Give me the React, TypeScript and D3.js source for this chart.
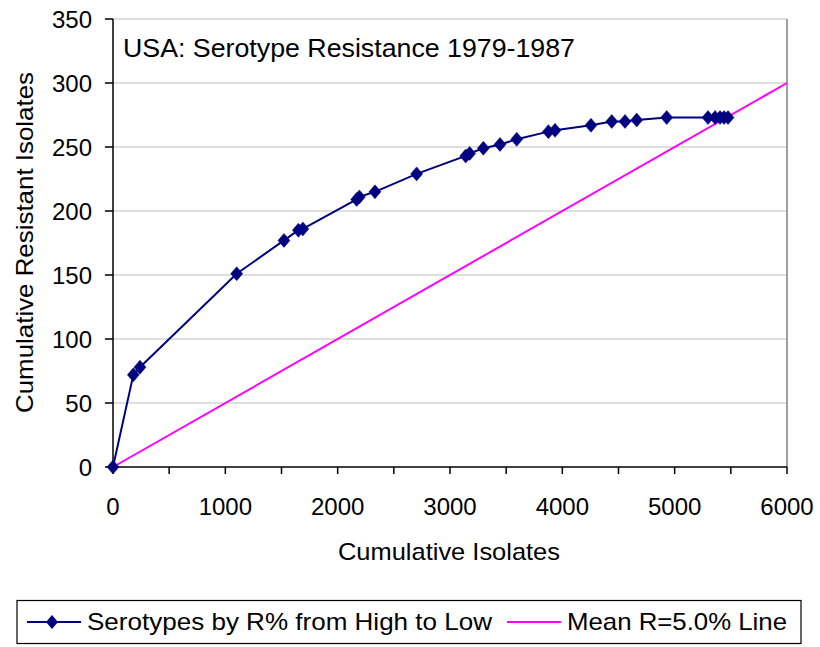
import React from "react";
import * as d3 from "d3";

const cumIsolates = [0, 181, 240, 1101, 1522, 1650, 1690, 2169, 2193, 2332, 2703, 3140, 3175, 3297, 3445, 3594, 3876, 3935, 4255, 4440, 4558, 4662, 4929, 5297, 5360, 5404, 5440, 5475];
const cumResistant = [0, 72, 78, 151, 177, 185, 186, 209, 211, 215, 229, 243, 245, 249, 252, 256, 262, 263, 267, 270, 270, 271, 273, 273, 273, 273, 273, 273];
const meanLineX = [0, 6000];
const meanRate = 0.05;
const xTickLabels = [0, 1000, 2000, 3000, 4000, 5000, 6000];
const xMinorTicks = [0, 500, 1000, 1500, 2000, 2500, 3000, 3500, 4000, 4500, 5000, 5500, 6000];
const yTickLabels = [0, 50, 100, 150, 200, 250, 300, 350];
const title = "USA: Serotype Resistance 1979-1987";
const xTitle = "Cumulative Isolates";
const yTitle = "Cumulative Resistant Isolates";
const seriesName = "Serotypes by R% from High to Low";
const meanName = "Mean R=5.0% Line";

const FONT = "'Liberation Sans', Arial, sans-serif";
const NAVY = "#000080";
const MAGENTA = "#FF00FF";

function diamond(cx: number, cy: number, hw = 6, hh = 7) {
  return `M${cx},${cy - hh}L${cx + hw},${cy}L${cx},${cy + hh}L${cx - hw},${cy}Z`;
}

export default function App() {
  const x = d3.scaleLinear().domain([0, 6000]).range([113, 787]);
  const y = d3.scaleLinear().domain([0, 350]).range([467, 19]);
  const pts = cumIsolates.map((v, i) => [v, cumResistant[i]] as [number, number]);
  const line = d3.line<[number, number]>().x((d) => x(d[0])).y((d) => y(d[1]));
  const meanPts = meanLineX.map((v) => [v, v * meanRate] as [number, number]);

  return (
    <svg width={820} height={647} style={{ position: "absolute", left: 0, top: 0, background: "#fff" }} fontFamily={FONT}>
      <rect x={0} y={0} width={820} height={647} fill="#fff" />
      {/* gridlines */}
      {yTickLabels.filter((t) => t > 0).map((t) => (
        <line key={"g" + t} x1={x(0)} x2={x(6000)} y1={y(t)} y2={y(t)} stroke="#c0c0c0" strokeWidth={1.2} />
      ))}
      {/* plot border right */}
      <line x1={x(6000)} x2={x(6000)} y1={y(350)} y2={y(0)} stroke="#808080" strokeWidth={1.5} />
      {/* axes */}
      <line x1={x(0)} x2={x(0)} y1={y(350)} y2={y(0)} stroke="#000" strokeWidth={1.5} />
      <line x1={x(0)} x2={x(6000)} y1={y(0)} y2={y(0)} stroke="#000" strokeWidth={1.5} />
      {yTickLabels.map((t) => (
        <g key={"yt" + t}>
          <line x1={x(0) - 8} x2={x(0)} y1={y(t)} y2={y(t)} stroke="#000" strokeWidth={1.5} />
          <text x={92} y={y(t) + 8.5} textAnchor="end" fontSize={24} fill="#000">{t}</text>
        </g>
      ))}
      {xMinorTicks.map((t) => (
        <line key={"xt" + t} x1={x(t)} x2={x(t)} y1={y(0)} y2={y(0) + 7} stroke="#000" strokeWidth={1.5} />
      ))}
      {xTickLabels.map((t) => (
        <text key={"xl" + t} x={x(t)} y={515} textAnchor="middle" fontSize={24} fill="#000">{t}</text>
      ))}
      {/* mean line */}
      <path d={line(meanPts) || ""} fill="none" stroke={MAGENTA} strokeWidth={2} />
      {/* series */}
      <path d={line(pts) || ""} fill="none" stroke={NAVY} strokeWidth={2} />
      {pts.map((p, i) => (
        <path key={"p" + i} d={diamond(x(p[0]), y(p[1]))} fill={NAVY} stroke={NAVY} strokeWidth={0.5} />
      ))}
      {/* title */}
      <text x={123} y={56.5} fontSize={25} fill="#000" textLength={452} lengthAdjust="spacingAndGlyphs">{title}</text>
      {/* axis titles */}
      <text x={449} y={560} textAnchor="middle" fontSize={24} fill="#000" textLength={222} lengthAdjust="spacingAndGlyphs">{xTitle}</text>
      <text transform="translate(33,242.5) rotate(-90)" x={0} y={0} textAnchor="middle" fontSize={24} fill="#000" textLength={341} lengthAdjust="spacingAndGlyphs">{yTitle}</text>
      {/* legend */}
      <rect x={17} y={600.5} width={784} height={43} fill="#fff" stroke="#000" strokeWidth={1.2} />
      <line x1={27} x2={81} y1={622} y2={622} stroke={NAVY} strokeWidth={2} />
      <path d={diamond(52, 622)} fill={NAVY} />
      <text x={87} y={630} fontSize={24} fill="#000" textLength={405} lengthAdjust="spacingAndGlyphs">{seriesName}</text>
      <line x1={507} x2={561} y1={622} y2={622} stroke={MAGENTA} strokeWidth={2} />
      <text x={567} y={630} fontSize={24} fill="#000" textLength={220} lengthAdjust="spacingAndGlyphs">{meanName}</text>
    </svg>
  );
}
